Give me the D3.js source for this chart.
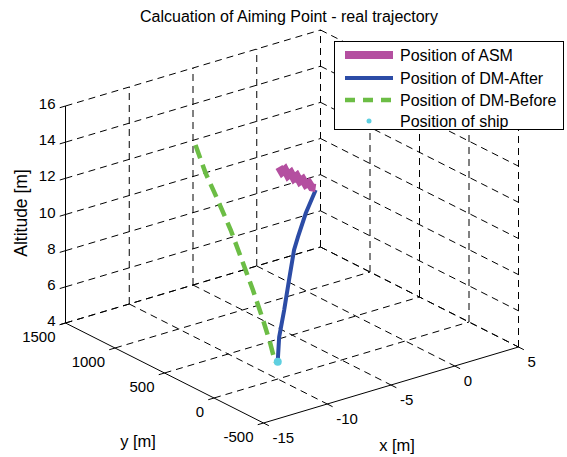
<!DOCTYPE html>
<html><head><meta charset="utf-8">
<script src="https://cdn.jsdelivr.net/npm/d3@7"></script>
<style>
html,body{margin:0;padding:0;background:#fff;}
svg{display:block;font-family:"Liberation Sans",Arial,sans-serif;}
</style></head>
<body>
<svg id="chart" width="567" height="457"></svg>
<script>
// ---- data ----
const title = "Calcuation of Aiming Point - real trajectory";
const xTicks = [-15, -10, -5, 0, 5];
const yTicks = [1500, 1000, 500, 0, -500];
const zTicks = [4, 6, 8, 10, 12, 14, 16];
const seriesNames = ["Position of ASM", "Position of DM-After", "Position of DM-Before", "Position of ship"];
// ASM (x, y, z)
const asmX = [0, 0, 0, 0, 0, 0, 0, 0, 0, 0, 0, 0, 0];
const asmY = [1275, 1245, 1215, 1185, 1155, 1125, 1095, 1065, 1035, 1005, 975, 945, 905];
const asmZ = [10.1, 9.9, 10.12, 9.88, 10.1, 9.88, 10.1, 9.88, 10.08, 9.88, 10.06, 9.88, 9.96];
// DM-After
const afterX = [0, -2.4, -4.54, -5.6, -6.94, -8.27, -9.61, -10];
const afterY = [905, 695, 499, 402, 280, 158, 36, 0];
const afterZ = [9.85, 9.66, 9.33, 9.10, 8.06, 7.01, 6.14, 5.0];
// DM-Before
const beforeX = [-5, -5.62, -6.35, -7.15, -7.88, -8.5, -9.11, -9.54, -9.85];
const beforeY = [1475, 1294, 1077, 842, 624, 444, 263, 136, 46];
const beforeZ = [11.81, 10.90, 10.16, 9.31, 8.24, 7.38, 6.35, 5.52, 4.78];
// ship
const shipX = [-10], shipY = [0], shipZ = [4.95];

const colors = ["#b44fa0", "#2c4ca6", "#6cbd45", "#5ecfe0"];

// ---- projection through scales ----
const svg = d3.select("#chart");
const O = [65.5, 323];
const Xv = [255, -76], Yv = [198, 100], Zv = [0, -217];
const sx = d3.scaleLinear().domain([-15, 5]).range([0, 1]);
const sy = d3.scaleLinear().domain([1500, -500]).range([0, 1]);
const sz = d3.scaleLinear().domain([4, 16]).range([0, 1]);
function P(x, y, z) {
  const a = sx(x), b = sy(y), c = sz(z);
  return [O[0] + a * Xv[0] + b * Yv[0] + c * Zv[0], O[1] + a * Xv[1] + b * Yv[1] + c * Zv[1]];
}
const X0 = -15, X1 = 5, Y0 = 1500, Y1 = -500, Z0 = 4, Z1 = 16;

const gGrid = svg.append("g").attr("fill", "none").attr("stroke", "#000")
  .attr("stroke-width", 1).attr("stroke-dasharray", "7,5");
function seg(g, p, q) {
  g.append("line").attr("x1", p[0]).attr("y1", p[1]).attr("x2", q[0]).attr("y2", q[1]);
}
// back-left wall y = 1500
zTicks.forEach(z => seg(gGrid, P(X0, Y0, z), P(X1, Y0, z)));
xTicks.filter(x => x !== X0).forEach(x => seg(gGrid, P(x, Y0, Z0), P(x, Y0, Z1)));
// back-right wall x = 5
zTicks.forEach(z => seg(gGrid, P(X1, Y0, z), P(X1, Y1, z)));
yTicks.filter(y => y !== Y0).forEach(y => seg(gGrid, P(X1, y, Z0), P(X1, y, Z1)));
// floor z = 4
xTicks.filter(x => x !== X0).forEach(x => seg(gGrid, P(x, Y0, Z0), P(x, Y1, Z0)));
yTicks.filter(y => y !== Y1).forEach(y => seg(gGrid, P(X0, y, Z0), P(X1, y, Z0)));

// ---- axes ----
const gAx = svg.append("g").attr("stroke", "#000").attr("stroke-width", 1).attr("fill", "none");
seg(gAx, P(X0, Y0, Z0), P(X0, Y0, Z1));  // z axis
seg(gAx, P(X0, Y0, Z0), P(X0, Y1, Z0));  // y axis
seg(gAx, P(X0, Y1, Z0), P(X1, Y1, Z0));  // x axis
const tl = 6;
const ux = [Xv[0] / Math.hypot(...Xv), Xv[1] / Math.hypot(...Xv)];
const uy = [Yv[0] / Math.hypot(...Yv), Yv[1] / Math.hypot(...Yv)];
zTicks.forEach(z => { const p = P(X0, Y0, z); seg(gAx, p, [p[0] - ux[0] * tl, p[1] - ux[1] * tl]); });
yTicks.forEach(y => { const p = P(X0, y, Z0); seg(gAx, p, [p[0] - ux[0] * tl, p[1] - ux[1] * tl]); });
xTicks.forEach(x => { const p = P(x, Y1, Z0); seg(gAx, p, [p[0] + uy[0] * tl, p[1] + uy[1] * tl]); });

const gT = svg.append("g").attr("fill", "#000").style("font-size", "15px");
zTicks.forEach(z => { const p = P(X0, Y0, z);
  gT.append("text").attr("x", p[0] - 10).attr("y", p[1] + 3).attr("text-anchor", "end").text(z); });
yTicks.forEach(y => { const p = P(X0, y, Z0);
  gT.append("text").attr("x", p[0] - 10).attr("y", p[1] + 19).attr("text-anchor", "end").text(y); });
xTicks.forEach(x => { const p = P(x, Y1, Z0);
  gT.append("text").attr("x", p[0] + 9).attr("y", p[1] + 20).attr("text-anchor", "start").text(x); });

const gL = svg.append("g").attr("fill", "#000").style("font-size", "16.5px");
gL.append("text").attr("x", 138).attr("y", 447).attr("text-anchor", "middle").text("y [m]");
gL.append("text").attr("x", 397).attr("y", 451).attr("text-anchor", "middle").text("x [m]");
gL.append("text").attr("transform", "translate(27,213) rotate(-90)").attr("text-anchor", "middle").style("font-size", "17.5px").text("Altitude [m]");
svg.append("text").attr("x", 289).attr("y", 22).attr("text-anchor", "middle").style("font-size", "16px").text(title);

// ---- data lines ----
const line = d3.line().x(d => d[0]).y(d => d[1]);
function pts(xs, ys, zs) { return xs.map((x, i) => P(x, ys[i], zs[i])); }
svg.append("path").attr("d", line(pts(beforeX, beforeY, beforeZ))).attr("fill", "none")
  .attr("stroke", colors[2]).attr("stroke-width", 4.5).attr("stroke-dasharray", "14,7");
svg.append("path").attr("d", line(pts(afterX, afterY, afterZ))).attr("fill", "none")
  .attr("stroke", colors[1]).attr("stroke-width", 4);
svg.append("path").attr("d", line(pts(asmX, asmY, asmZ))).attr("fill", "none")
  .attr("stroke", colors[0]).attr("stroke-width", 8).attr("stroke-linejoin", "miter").attr("stroke-miterlimit", 2);
pts(shipX, shipY, shipZ).forEach(p => svg.append("circle").attr("cx", p[0]).attr("cy", p[1]).attr("r", 4).attr("fill", colors[3]));

// ---- legend ----
const lg = svg.append("g");
lg.append("rect").attr("x", 334.5).attr("y", 41.5).attr("width", 229).attr("height", 88)
  .attr("fill", "#fff").attr("stroke", "#000").attr("stroke-width", 1);
const rowY = [55, 78, 100, 121];
const sw = [8, 4, 4.5];
seriesNames.forEach((n, i) => {
  const y = rowY[i];
  if (i < 3) {
    const l = lg.append("line").attr("x1", 345).attr("x2", 393).attr("y1", y).attr("y2", y)
      .attr("stroke", colors[i]).attr("stroke-width", sw[i]);
    if (i === 2) l.attr("stroke-dasharray", "10,8");
  } else {
    lg.append("circle").attr("cx", 369).attr("cy", y).attr("r", 2.5).attr("fill", colors[3]);
  }
  lg.append("text").attr("x", 400).attr("y", y + 6).style("font-size", "16px").text(n);
});
</script>
</body></html>
